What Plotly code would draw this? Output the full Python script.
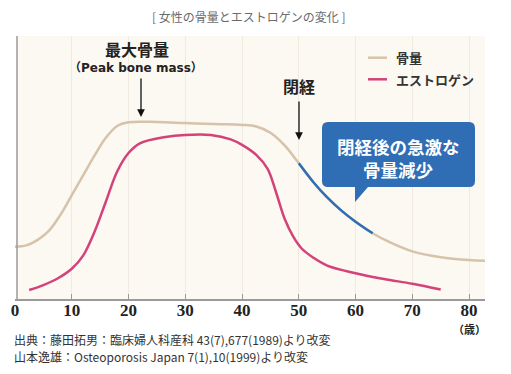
import plotly.graph_objects as go

# ---- data (age in years, relative level 0-100) ----
bone_age = [0, 2, 4, 6, 8, 10, 12, 14, 16, 18, 20, 25, 30, 35, 40, 42.5, 45, 47.5,
            50, 52.5, 55, 57.5, 60, 63, 66, 70, 75, 80, 83]
bone_val = [19.9, 20.4, 22.5, 26.0, 32.0, 39.5, 47.0, 54.5, 61.3, 65.8, 67.2, 67.3, 66.9,
            66.5, 66.2, 65.6, 63.2, 58.4, 51.6, 44.6, 38.6, 33.6, 29.4, 25.0, 21.6, 18.1,
            15.9, 14.8, 14.5]
loss_start, loss_end = 50, 63

estro_age = [2.5, 5, 7.5, 10, 12, 14, 16, 18, 20, 22, 26.5, 30, 34.5, 38, 40, 42.5,
             44.5, 46, 47.5, 49, 50.5, 52.5, 55, 60, 65, 70, 75]
estro_val = [3.4, 5.3, 7.8, 11.5, 16.5, 25.5, 37.0, 48.5, 55.5, 59.2, 61.6, 62.4, 62.4, 60.7,
             58.6, 54.8, 49.5, 40.5, 30.5, 23.8, 19.2, 15.8, 12.7, 9.8, 7.6, 5.8, 3.6]

x_ticks = [0, 10, 20, 30, 40, 50, 60, 70, 80]
x_ticktext = [str(t) for t in x_ticks]

title_text = "[ 女性の骨量とエストロゲンの変化 ]"
legend_names = ["骨量", "エストロゲン"]
peak_label = ["最大骨量", "（Peak bone mass）"]
meno_label = "閉経"
callout = ["閉経後の急激な", "骨量減少"]
unit_label = "（歳）"
sources = ["出典：藤田拓男：臨床婦人科産科 43(7),677(1989)より改変",
           "山本逸雄：Osteoporosis Japan 7(1),10(1999)より改変"]

BONE = "#d6c3a9"
PINK = "#d3437a"
BLUE = "#2f6db5"
AXIS = "#9a9a9a"
FONT = "Noto Sans CJK JP"

# page has an 8px body margin; size the figure so it fits the 511x374 window
OFF = 8
W, H = 495, 358
L, R, T, B = 7, 18, 28, 67
PW, PH = W - L - R, H - T - B


def px(x):  # reference page x -> paper
    return (x - OFF - L) / PW


def py(y):  # reference page y -> paper
    return (H - B - (y - OFF)) / PH


line_kw = dict(width=2.5, shape="spline", smoothing=1.0)
fig = go.Figure()
fig.add_trace(go.Scatter(x=bone_age, y=bone_val, mode="lines",
                         line=dict(color=BONE, **line_kw), showlegend=False, hoverinfo="skip"))
seg = [(a, v) for a, v in zip(bone_age, bone_val) if loss_start <= a <= loss_end]
fig.add_trace(go.Scatter(x=[s[0] for s in seg], y=[s[1] for s in seg], mode="lines",
                         line=dict(color=BLUE, **line_kw), showlegend=False, hoverinfo="skip"))
fig.add_trace(go.Scatter(x=estro_age, y=estro_val, mode="lines",
                         line=dict(color=PINK, **line_kw), showlegend=False, hoverinfo="skip"))

shapes = []
shapes.append(dict(type="rect", xref="paper", yref="paper", x0=px(17), x1=px(485), y0=0, y1=1,
                   fillcolor="#fcf8f2", line=dict(width=0), layer="below"))
shapes.append(dict(type="line", xref="paper", yref="paper", x0=px(17), x1=px(17), y0=0, y1=1,
                   line=dict(color=AXIS, width=1.5)))
for i, c in enumerate([BONE, PINK]):
    yy = py(57.7 + 21.6 * i)
    shapes.append(dict(type="line", xref="paper", yref="paper", x0=px(368), x1=px(387),
                       y0=yy, y1=yy, line=dict(color=c, width=2.5)))
# callout box with pointer
x0, x1, y0, y1, r = 322, 475, 122, 187, 6
pts = [
    ("M", x0 + r, y0), ("L", x1 - r, y0), ("Q", x1, y0, x1, y0 + r), ("L", x1, y1 - r),
    ("Q", x1, y1, x1 - r, y1), ("L", 368, y1), ("L", 355, 202), ("L", 355, y1),
    ("L", x0 + r, y1), ("Q", x0, y1, x0, y1 - r), ("L", x0, y0 + r), ("Q", x0, y0, x0 + r, y0),
]
path = ""
for p in pts:
    coords = p[1:]
    parts = [f"{px(coords[k]):.5f},{py(coords[k+1]):.5f}" for k in range(0, len(coords), 2)]
    path += p[0] + " " + " ".join(parts) + " "
path += "Z"
shapes.append(dict(type="path", xref="paper", yref="paper", path=path,
                   fillcolor=BLUE, line=dict(width=0)))

ann = []


def text(t, x, y, size, color="#222222", xanchor="center", family=FONT):
    ann.append(dict(text=t, xref="paper", yref="paper", x=px(x), y=py(y), xanchor=xanchor,
                    yanchor="middle", showarrow=False,
                    font=dict(family=family, size=size, color=color)))


text(title_text, 249, 16, 12, "#6b6b6b")
for i, n in enumerate(legend_names):
    text(f"<b>{n}</b>", 394, 57.7 + 21.6 * i, 13, "#333333", xanchor="left")
text(f"<b>{peak_label[0]}</b>", 136.5, 49, 16)
text(f"<b>{peak_label[1]}</b>", 136, 68, 12, family="DejaVu Sans, " + FONT)
text(f"<b>{meno_label}</b>", 298.5, 86, 16)
for i, t in enumerate(callout):
    text(f"<b>{t}</b>", 398.5, 146.5 + 22.5 * i, 17.5, "white")
text(f"<b>{unit_label}</b>", 469.5, 328.5, 11)
for i, s in enumerate(sources):
    text(s, 12, 339 + 17.5 * i, 12, "#333333", xanchor="left")

for ax_x, tip, tail in [(141, 117, 77), (299, 140, 100)]:
    ann.append(dict(text="", x=px(ax_x), y=py(tip), xref="paper", yref="paper", ax=0,
                    ay=-(tip - tail), showarrow=True, arrowhead=2, arrowsize=1.2,
                    arrowwidth=1.3, arrowcolor="#111111"))

fig.update_layout(
    width=W, height=H, margin=dict(l=L, r=R, t=T, b=B, autoexpand=False),
    paper_bgcolor="white", plot_bgcolor="rgba(0,0,0,0)",
    shapes=shapes, annotations=ann, showlegend=False,
    xaxis=dict(range=[0, 82.8], tickvals=x_ticks, ticktext=[f"<b>{t}</b>" for t in x_ticktext],
               ticks="inside", ticklen=5, tickcolor=AXIS, tickwidth=1.2,
               ticklabelstandoff=-5,
               showline=True, linecolor=AXIS, linewidth=1.5, showgrid=True,
               gridcolor="#f0eae1", gridwidth=1, zeroline=False,
               tickfont=dict(family="Liberation Sans Narrow", size=17, color="#222222"),
               fixedrange=True),
    yaxis=dict(range=[0, 100], showticklabels=False, showgrid=False, zeroline=False,
               showline=False, ticks="", fixedrange=True),
)
fig.write_html("out.html")
